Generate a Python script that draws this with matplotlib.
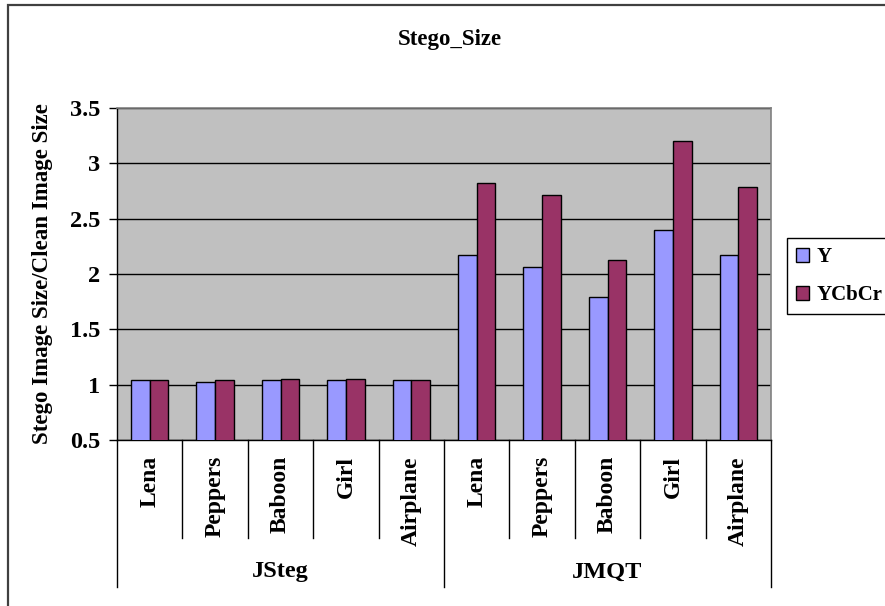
import matplotlib
matplotlib.use("Agg")
import matplotlib.pyplot as plt
import matplotlib.transforms as mtransforms
from matplotlib.patches import Rectangle
from matplotlib.lines import Line2D

# Data
methods = ["JSteg", "JMQT"]
images = ["Lena", "Peppers", "Baboon", "Girl", "Airplane"]
y_only = [1.04, 1.02, 1.04, 1.04, 1.04, 2.17, 2.06, 1.79, 2.40, 2.17]
ycbcr = [1.04, 1.04, 1.05, 1.05, 1.04, 2.82, 2.71, 2.13, 3.20, 2.79]
series_names = ["Y", "YCbCr"]
y_ticks = [0.5, 1, 1.5, 2, 2.5, 3, 3.5]
y_tick_labels = ["0.5", "1", "1.5", "2", "2.5", "3", "3.5"]

plt.rcParams["font.family"] = ["Liberation Serif", "DejaVu Serif"]
plt.rcParams["font.weight"] = "bold"

W, H = 885, 606
fig = plt.figure(figsize=(W / 100, H / 100), dpi=100)

def fx(px):
    return px / W

def fy(py):
    return 1 - py / H

# Outer chart border (left and top visible)
fig.add_artist(Rectangle((fx(8), fy(1000)), fx(1000), fy(5) - fy(1000),
                         transform=fig.transFigure, fill=False,
                         edgecolor="#404040", linewidth=1.6))

left, right, top, bottom = 117, 771, 108, 440
ax = fig.add_axes([fx(left), fy(bottom), fx(right) - fx(left), fy(top) - fy(bottom)])
ax.set_facecolor("#C0C0C0")

n = len(y_only)
bw = 1 / 3.5
centers = [i + 0.5 for i in range(n)]
b1 = ax.bar([c - bw / 2 for c in centers], y_only, width=bw, bottom=0,
            color="#9999FF", edgecolor="black", linewidth=1.0, zorder=3,
            label=series_names[0])
b2 = ax.bar([c + bw / 2 for c in centers], ycbcr, width=bw, bottom=0,
            color="#993366", edgecolor="black", linewidth=1.0, zorder=3,
            label=series_names[1])

ax.set_xlim(0, n)
ax.set_ylim(0.5, 3.5)
ax.set_yticks(y_ticks)
ax.set_yticklabels(y_tick_labels, fontsize=17.5, fontweight="bold")
ax.tick_params(axis="y", length=5.5, width=1, pad=6.5, color="black")
ax.set_xticks([])
ax.yaxis.grid(True, color="black", linewidth=1.0, zorder=1)
ax.set_axisbelow(True)
for side in ("top", "right"):
    ax.spines[side].set_color("#808080")
    ax.spines[side].set_linewidth(1.2)
for side in ("left", "bottom"):
    ax.spines[side].set_color("black")
    ax.spines[side].set_linewidth(1.0)

# Category table under the axis
trans = mtransforms.blended_transform_factory(ax.transData, fig.transFigure)
for i in range(n + 1):
    if i % 5 == 0:
        y_end = 587
    else:
        y_end = 538
    fig.add_artist(Line2D([i, i], [fy(bottom), fy(y_end)], transform=trans,
                          color="black", linewidth=1.0))

labels = images * len(methods)
for c, lab in zip(centers, labels):
    fig.text(c, fy(456), lab, transform=trans, rotation=90, ha="center",
             va="top", fontsize=17, fontweight="bold")

for g, m in enumerate(methods):
    fig.text(g * 5 + 2.5, fy(572), m, transform=trans, ha="center",
             va="center", fontsize=17.5, fontweight="bold")

fig.text(fx(43), fy(274), "Stego Image Size/Clean Image Size", rotation=90,
         ha="center", va="center", fontsize=16.5, fontweight="bold")
fig.text(fx(450), fy(39), "Stego_Size", ha="center", va="center",
         fontsize=16.5, fontweight="bold")

leg = fig.legend(handles=[b1, b2], labels=series_names, loc="upper left",
                 bbox_to_anchor=(fx(787), fy(238)), frameon=True,
                 fancybox=False, edgecolor="black", framealpha=1,
                 borderaxespad=0, handlelength=0.62,
                 handleheight=0.62, handletextpad=0.35, labelspacing=0.85,
                 borderpad=0.45, prop={"weight": "bold", "size": 15})
leg.get_frame().set_linewidth(1.0)

fig.savefig("out.png", dpi=100)
